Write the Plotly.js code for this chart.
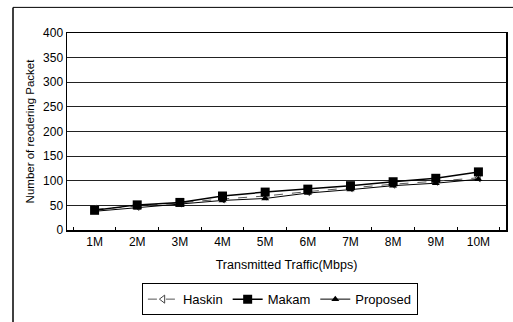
<!DOCTYPE html>
<html><head><meta charset="utf-8">
<script src="https://cdn.plot.ly/plotly-3.0.1.min.js"></script>
<style>html,body{margin:0;padding:0;background:#fff}#c{width:513px;height:322px}</style>
</head><body><div id="c"></div>
<script>
var categories = ["1M","2M","3M","4M","5M","6M","7M","8M","9M","10M"];
var haskin   = [42, 48, 55, 63, 69, 78, 86, 93, 99, 106];
var makam    = [40, 51, 56, 69, 77, 83, 90, 98, 105, 118];
var proposed = [38, 45, 52, 60, 64, 75, 82, 90, 95, 103];
var yTicks = [0,50,100,150,200,250,300,350,400];

var traces = [
 {x:categories, y:haskin, name:"Haskin", mode:"lines+markers",
  line:{color:"#555", width:1, dash:"dash"},
  marker:{symbol:"triangle-left-open", size:7, color:"#444", line:{width:1}}},
 {x:categories, y:makam, name:"Makam", mode:"lines+markers",
  line:{color:"#000", width:1.5},
  marker:{symbol:"square", size:9, color:"#000"}},
 {x:categories, y:proposed, name:"Proposed", mode:"lines+markers",
  line:{color:"#000", width:1},
  marker:{symbol:"triangle-up", size:7, color:"#000"}}
];
var layout = {
 width:513, height:322,
 margin:{l:67, r:7, t:33, b:89},
 paper_bgcolor:"#fff", plot_bgcolor:"#fff",
 font:{family:"Liberation Sans, Arial, sans-serif", color:"#000", size:11},
 showlegend:true,
 legend:{orientation:"h", x:0.485, xanchor:"center", y:-0.27, yanchor:"top",
   bordercolor:"#000", borderwidth:1, font:{size:13}, itemwidth:30,
   tracegroupgap:0},
 xaxis:{type:"category", tickvals:categories, ticktext:categories,
   showline:true, linecolor:"#000", linewidth:1.5, mirror:true,
   ticks:"inside", tickson:"boundaries", ticklen:3, tickcolor:"#000",
   showgrid:false, tickfont:{size:12},
   title:{text:"Transmitted Traffic(Mbps)", font:{size:12.5}, standoff:12}},
 yaxis:{range:[0,400], tickvals:yTicks, ticktext:yTicks.map(String),
   showline:true, linecolor:"#000", linewidth:1.5, mirror:true,
   ticks:"", gridcolor:"#222", gridwidth:1, zeroline:false,
   tickfont:{size:12},
   title:{text:"Number of reodering Packet", font:{size:11.5}, standoff:6}},
 shapes:[
   {type:"line", xref:"paper", yref:"paper", x0:-0.123, x1:1.02, y0:1.13, y1:1.13, line:{color:"#000", width:1}},
   {type:"line", xref:"paper", yref:"paper", x0:-0.123, x1:-0.123, y0:1.13, y1:-0.5, line:{color:"#000", width:1.5}}
 ]
};
Plotly.newPlot("c", traces, layout, {displayModeBar:false, staticPlot:true});
</script></body></html>
